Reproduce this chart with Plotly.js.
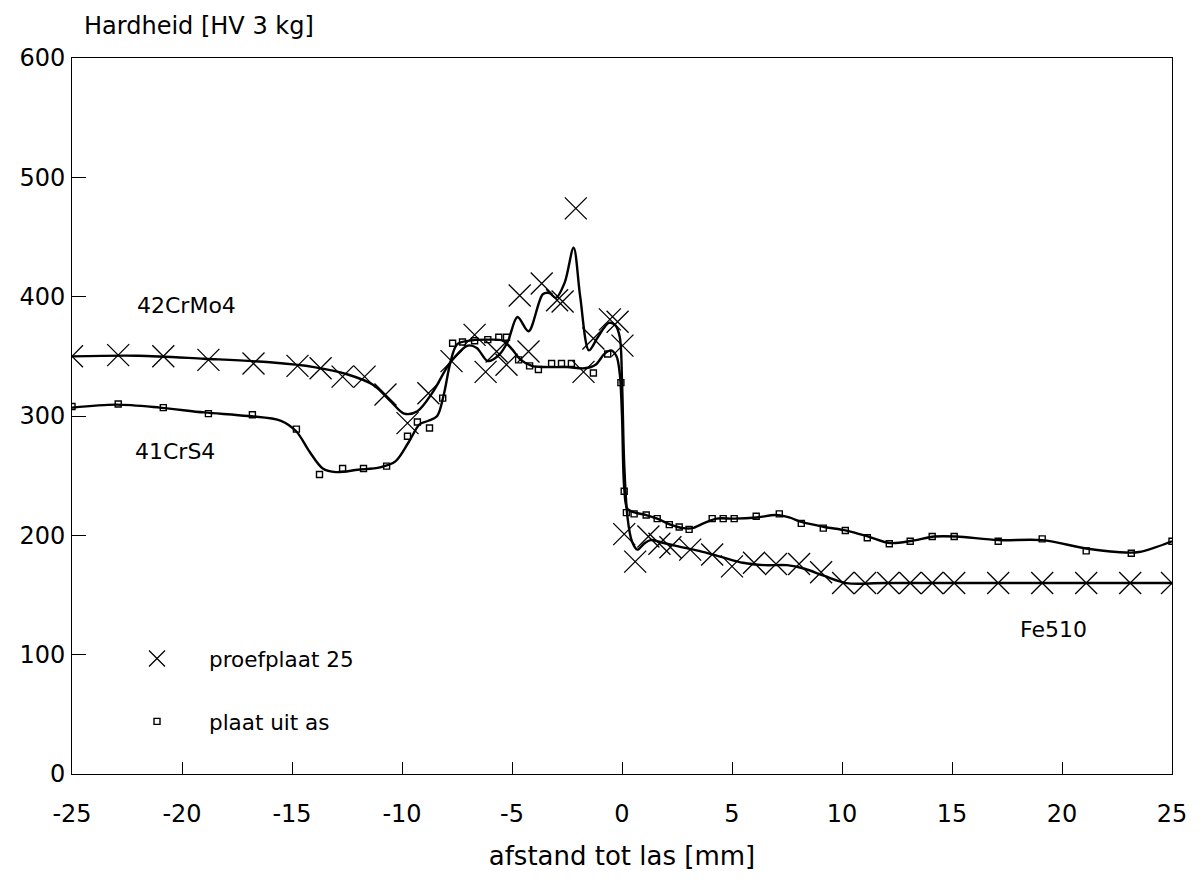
<!DOCTYPE html>
<html>
<head>
<meta charset="utf-8">
<script src="https://cdn.plot.ly/plotly-3.0.1.min.js"></script>
<style>
html,body{margin:0;padding:0;background:#fff;}
#chart{width:1202px;height:886px;}
</style>
</head>
<body>
<div id="chart"></div>
<script>
// proefplaat 25 (X markers)
var proefX = [-25,-22.9,-20.85,-18.8,-16.75,-14.75,-13.7,-12.7,-11.7,-10.75,-9.75,-8.8,-7.75,-6.7,-6.2,-5.7,-5.25,-4.65,-4.25,-3.65,-2.95,-2.7,-2.1,-1.75,-1.3,-0.55,-0.2,0.02,0.1,0.6,1.2,1.7,2.2,3.1,4.1,5.0,6.0,7.0,8.05,9.05,10.05,11.05,12.1,13.1,14.1,15.1,17.1,19.1,21.1,23.1,25];
var proefY = [350,351,350,347,344,342,340,333,333,318,294,319,346,368,337,354,343,401,354,411,397,396,474,337,365,381,379,359,201,178,199,193,190,188,184,174,177,176,176,169,160,160,160,160,160,160,160,160,160,160,160];

// plaat uit as (square markers)
var plaatX = [-25,-22.9,-20.85,-18.8,-16.8,-14.8,-13.75,-12.7,-11.75,-10.7,-9.75,-9.3,-8.75,-8.15,-7.7,-7.25,-6.7,-6.1,-5.6,-5.25,-4.7,-4.2,-3.8,-3.2,-2.75,-2.3,-1.3,-0.65,-0.05,0.1,0.2,0.55,1.1,1.6,2.15,2.6,3.05,4.1,4.6,5.1,6.1,7.15,8.15,9.15,10.15,11.15,12.15,13.1,14.1,15.1,17.1,19.1,21.1,23.15,25];
var plaatY = [308,310,307,302,301,289,251,256,256,258,283,295,290,315,361,362,363,364,366,366,347,342,339,344,344,344,336,352,328,237,219,218,217,214,209,207,205,214,214,214,216,218,210,206,204,198,193,195,199,199,195,197,187,185,195];

// fitted curve through proefplaat 25
var curveAX = [-25,-22,-19,-16,-14,-12.5,-11.3,-10.5,-9.9,-9.3,-8.6,-7.8,-7.0,-6.6,-6.1,-5.6,-5.2,-4.75,-4.25,-3.6,-3.3,-3.0,-2.6,-2.2,-1.9,-1.5,-1.1,-0.6,-0.3,-0.1,0.0,0.1,0.25,0.45,0.7,1.0,1.3,1.8,2.5,3.5,4.5,5.5,6.5,7.5,8.3,9.2,10.2,12,25];
var curveAY = [350,350.5,348,345,341,335,326,312,302,304,320,345,359,357,346,351,362,383,371,402,403,399,412,441,400,355,366,378,376,366,330,260,215,195,188,193,196,194,191,187,182,177,175,175,172,166,160,160,160];

// fitted curve through plaat uit as
var curveBX = [-25,-23,-21,-19,-17,-15.5,-14.8,-14.2,-13.6,-13,-12,-11,-10.3,-9.7,-9.2,-8.8,-8.4,-8.1,-7.8,-7.5,-7.0,-6.0,-5.4,-5.0,-4.6,-4.1,-3.5,-2.5,-1.7,-1.2,-0.8,-0.5,-0.25,-0.1,0.0,0.1,0.25,0.6,1.1,1.6,2.2,2.8,3.2,3.7,4.3,5.1,6.1,7.0,7.6,8.2,9.2,10.2,11.2,12.2,13.2,14.2,15.2,17.1,19.1,21.1,22.5,23.5,25];
var curveBY = [307,309.5,307,303,300,296,287,270,256,253,255,257,262,278,293,296,300,318,345,360,363,364,363,356,347,342,341,341,340,343,352,355,350,335,300,240,222,219,217,214,209,206,206,210,214,214,215,217,215,211,207,204,199,193.5,195.5,199,199,196,196,189,186,186,195];

var xTicks = [-25,-20,-15,-10,-5,0,5,10,15,20,25];
var yTicks = [0,100,200,300,400,500,600];

var labelTexts = ['42CrMo4','41CrS4','Fe510'];
var labelX = [-19.8,-20.3,19.6];
var labelY = [393,270,121];

var FONT = 'DejaVu Sans, Liberation Sans, Arial, sans-serif';

var traces = [
  {x: curveAX, y: curveAY, mode:'lines', line:{color:'#000', width:2.4, shape:'spline', smoothing:0.9}, showlegend:false, hoverinfo:'skip'},
  {x: curveBX, y: curveBY, mode:'lines', line:{color:'#000', width:2.4, shape:'spline', smoothing:0.9}, showlegend:false, hoverinfo:'skip'},
  {x: proefX, y: proefY, mode:'markers', name:'proefplaat 25', legendgroup:'a',
   marker:{symbol:'x-thin-open', size:22, color:'#000', line:{color:'#000', width:1.3}}},
  {x: plaatX, y: plaatY, mode:'markers', name:'plaat uit as', legendgroup:'b',
   marker:{symbol:'square-open', size:6, color:'#000', line:{color:'#000', width:1.4}}}
];

var annotations = labelTexts.map(function(t,i){
  return {x: labelX[i], y: labelY[i], xref:'x', yref:'y', text:t, showarrow:false,
          font:{family:FONT, size:22, color:'#000'}, xanchor:'center', yanchor:'middle'};
});

var layout = {
  width:1202, height:886,
  paper_bgcolor:'#fff', plot_bgcolor:'#fff',
  margin:{l:72, r:30, t:58, b:112},
  title:{text:'Hardheid [HV 3 kg]', x:84/1202, xanchor:'left', xref:'container', y:1-26/886, yanchor:'middle', yref:'container',
         font:{family:FONT, size:24, color:'#000'}},
  xaxis:{range:[-25,25], tickvals:xTicks, ticktext:xTicks.map(String), ticks:'inside', ticklen:12, tickwidth:1, tickcolor:'#000',
         showline:true, linecolor:'#000', linewidth:1, mirror:true, showgrid:false, zeroline:false,
         ticklabelstandoff:18,
         tickfont:{family:FONT, size:24, color:'#000'},
         title:{text:'afstand tot las [mm]', font:{family:FONT, size:26, color:'#000'}, standoff:20}},
  yaxis:{range:[0,600], tickvals:yTicks, ticktext:yTicks.map(String), ticks:'inside', ticklen:14, tickwidth:1, tickcolor:'#000',
         showline:true, linecolor:'#000', linewidth:1, mirror:true, showgrid:false, zeroline:false,
         ticklabelstandoff:1,
         tickfont:{family:FONT, size:24, color:'#000'}},
  legend:{x:0.03, y:0.19, xanchor:'left', yanchor:'top', bgcolor:'rgba(0,0,0,0)', borderwidth:0,
          font:{family:FONT, size:21.5, color:'#000'}, itemwidth:94, tracegroupgap:32, traceorder:'grouped'},
  annotations: annotations,
  showlegend:true
};

Plotly.newPlot('chart', traces, layout, {staticPlot:true, displayModeBar:false});
</script>
</body>
</html>
